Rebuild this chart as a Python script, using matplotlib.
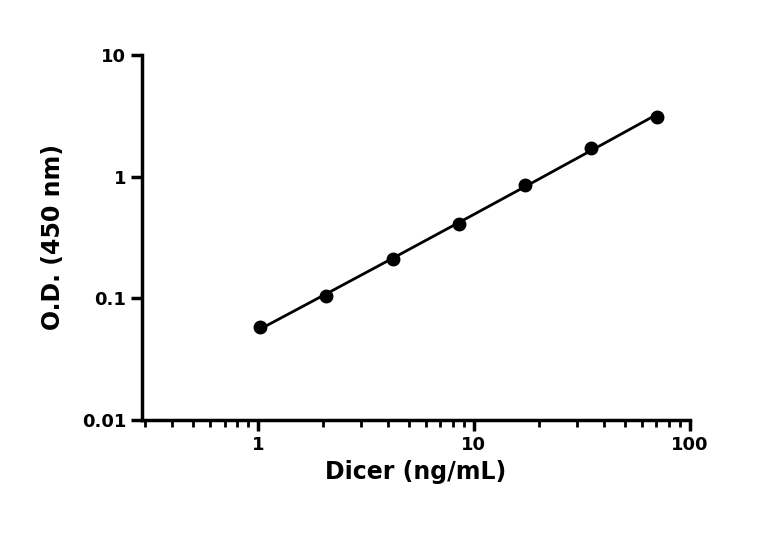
import numpy as np
import matplotlib
matplotlib.use("Agg")
import matplotlib.pyplot as plt
from matplotlib.ticker import LogLocator, FixedLocator, FixedFormatter, NullFormatter, NullLocator

conc = [1.02, 2.07, 4.2, 8.5, 17.3, 35.0, 70.5]
od = [0.058, 0.104, 0.209, 0.41, 0.86, 1.73, 3.1]

fig = plt.figure(figsize=(7.68, 5.33), dpi=100)
ax = fig.add_axes([0.185, 0.212, 0.713, 0.685])
lx, ly = np.log10(conc), np.log10(od)
c = np.polyfit(lx, ly, 2)
xs = np.linspace(lx[0], lx[-1], 200)
ax.plot(10**xs, 10**np.polyval(c, xs), color='black', lw=2)
ax.plot(conc, od, 'o', color='black', ms=9)
ax.set_xscale('log'); ax.set_yscale('log')
ax.set_xlim(0.29, 100); ax.set_ylim(0.01, 10)
for s in ['top', 'right']:
    ax.spines[s].set_visible(False)
for s in ['left', 'bottom']:
    ax.spines[s].set_linewidth(2.5)
ax.xaxis.set_major_locator(FixedLocator([1, 10, 100]))
ax.xaxis.set_major_formatter(FixedFormatter(['1', '10', '100']))
ax.xaxis.set_minor_locator(LogLocator(base=10, subs=np.arange(2, 10)))
ax.xaxis.set_minor_formatter(NullFormatter())
ax.yaxis.set_major_locator(FixedLocator([0.01, 0.1, 1, 10]))
ax.yaxis.set_major_formatter(FixedFormatter(['0.01', '0.1', '1', '10']))
ax.yaxis.set_minor_locator(NullLocator())
ax.tick_params(which='major', length=8, width=2.5, labelsize=13)
ax.tick_params(which='minor', length=5, width=2)
for t in ax.get_xticklabels() + ax.get_yticklabels():
    t.set_fontweight('bold')
ax.set_xlabel('Dicer (ng/mL)', fontsize=17, fontweight='bold')
ax.set_ylabel('O.D. (450 nm)', fontsize=17, fontweight='bold', labelpad=12)
fig.savefig('out.png', dpi=100)
